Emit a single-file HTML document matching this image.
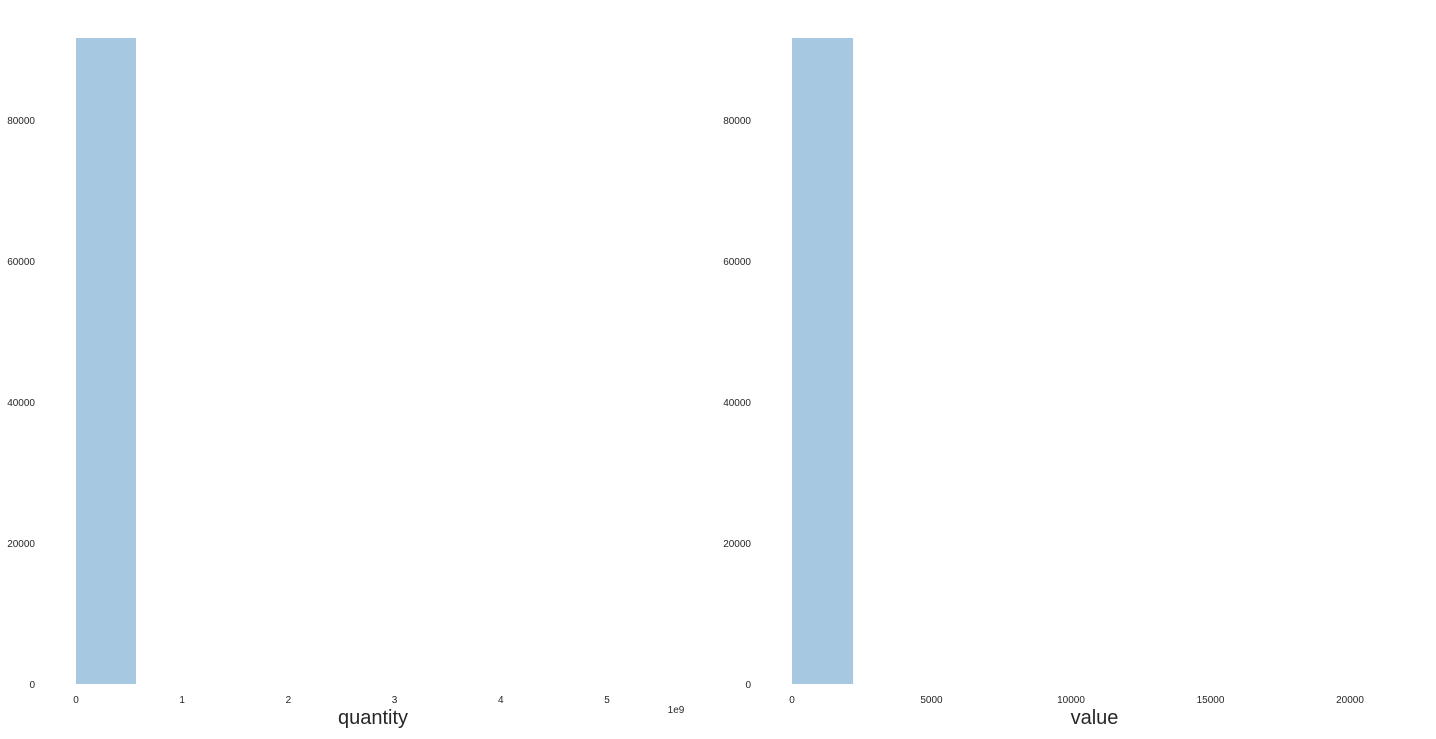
<!DOCTYPE html>
<html><head><meta charset="utf-8"><style>
body{margin:0;background:#fff;font-family:"Liberation Sans",sans-serif;}
svg text{font-family:"Liberation Sans",sans-serif;fill:#262626;}
</style></head><body>
<svg width="1436" height="734" id="fig"></svg>
<script>
const qtyCounts=[91600,0,0,0,0,0,0,0,0,0];
const qtyRange=[0,5.65];
const qtyTicks=[0,1,2,3,4,5];
const valCounts=[91600,0,0,0,0,0,0,0,0,0];
const valRange=[0,21900];
const valTicks=[0,5000,10000,15000,20000];
const yTicks=[0,20000,40000,60000,80000];
const NS="http://www.w3.org/2000/svg";
const svg=document.getElementById('fig');
function mk(t,a,p){const e=document.createElementNS(NS,t);for(const k in a)e.setAttribute(k,a[k]);(p||svg).appendChild(e);return e;}
function panel(name,x0,x1,counts,range,ticks,label,offset){
  const g=mk('g',{});
  
  
  const y0=684,yTop=38;
  const ymax=Math.max(...counts);
  const xs=v=>x0+(v-range[0])/(range[1]-range[0])*(x1-x0);
  const ys=v=>y0-v/ymax*(y0-yTop);
  const bw=(range[1]-range[0])/counts.length;
  counts.forEach((c,i)=>{
    if(c<=0) return;
    const a=xs(range[0]+i*bw),b=xs(range[0]+(i+1)*bw);
    const r=mk('rect',{x:a,y:ys(c),width:b-a,height:y0-ys(c),fill:'#a6c8e0'},g);
    
    
  });
  ticks.forEach(t=>{
    const e=mk('text',{x:xs(t),y:703,'font-size':10,'text-anchor':'middle'},g);
    e.textContent=t;
    
    
  });
  yTicks.forEach(t=>{
    const e=mk('text',{x:x0-41,y:ys(t)+4,'font-size':10,'text-anchor':'end'},g);
    e.textContent=t;
    
    
  });
  const l=mk('text',{x:(x0+x1)/2-3,y:724,'font-size':20,'text-anchor':'middle'},g);
  l.textContent=label;
  
  
  if(offset){
    const o=mk('text',{x:x1,y:713,'font-size':10,'text-anchor':'middle'},g);
    o.textContent=offset;
    
    
  }
}
panel('quantity',76,676,qtyCounts,qtyRange,qtyTicks,'quantity','1e9');
panel('value',792,1403,valCounts,valRange,valTicks,'value',null);
</script>
</body></html>
